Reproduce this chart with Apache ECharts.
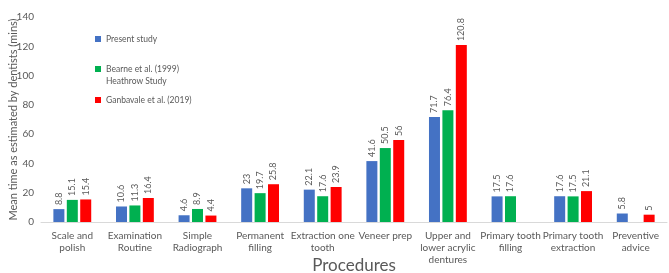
<!DOCTYPE html>
<html>
<head>
<meta charset="utf-8">
<script src="https://cdn.jsdelivr.net/npm/echarts@6/dist/echarts.min.js"></script>
<style>
  html, body { margin: 0; padding: 0; background: #fff; }
  #chart { width: 669px; height: 273px; }
</style>
</head>
<body>
<div id="chart"></div>
<script>
const categories = [
  'Scale and\npolish', 'Examination\nRoutine', 'Simple\nRadiograph', 'Permanent\nfilling',
  'Extraction one\ntooth', 'Veneer prep', 'Upper and\nlower acrylic\ndentures',
  'Primary tooth\nfilling', 'Primary tooth\nextraction', 'Preventive\nadvice'
]
const seriesNames = ['Present study', 'Bearne et al. (1999)\nHeathrow Study', 'Ganbavale et al. (2019)']
const presentStudy = [8.8, 10.6, 4.6, 23, 22.1, 41.6, 71.7, 17.5, 17.6, 5.8]
const bearne = [15.1, 11.3, 8.9, 19.7, 17.6, 50.5, 76.4, 17.6, 17.5, null]
const ganbavale = [15.4, 16.4, 4.4, 25.8, 23.9, 56, 120.8, null, 21.1, 5]
const yTicks = { min: 0, max: 140, interval: 20 }

const font = 'Lato, sans-serif'
const txt = '#595959'

const chart = echarts.init(document.getElementById('chart'), null, { renderer: 'canvas' })

function bar(name, data, color) {
  return {
    name,
    type: 'bar',
    data,
    barWidth: 11,
    barGap: '22%',
    itemStyle: { color },
    label: {
      show: true,
      position: 'top',
      rotate: 90,
      align: 'left',
      verticalAlign: 'middle',
      distance: 4,
      fontSize: 9,
      fontFamily: font,
      color: txt,
    },
  }
}

// one legend per entry; the two-line entry gets a blank first line so
// its square sits level with "Bearne et al. (1999)" like the original
function legend(name, top, fmt) {
  return {
    left: 95,
    top,
    padding: 0,
    itemWidth: 6,
    itemHeight: 6,
    itemGap: 0,
    icon: 'rect',
    formatter: fmt,
    textStyle: {
      fontSize: 8.5, color: txt, fontFamily: font, lineHeight: 12,
      rich: { s: { lineHeight: 12, fontSize: 8.5 }, a: { lineHeight: 12, fontSize: 8.5, color: txt } },
    },
    data: [name],
  }
}

chart.setOption({
  animation: false,
  textStyle: { fontFamily: font },
  legend: [
    legend(seriesNames[0], 33),
    legend(seriesNames[1], 51, n => '{s| }\n' + n.split('\n').map(l => '{a|' + l + '}').join('\n')),
    legend(seriesNames[2], 94),
  ],
  grid: { left: 41, right: 2, top: 17, bottom: 51, containLabel: false, outerBoundsMode: 'none' },
  xAxis: {
    type: 'category',
    data: categories,
    name: 'Procedures',
    nameLocation: 'middle',
    nameGap: 35,
    nameMoveOverlap: false,
    nameTextStyle: { fontSize: 17, color: txt, fontFamily: font },
    axisLine: { lineStyle: { color: '#d9d9d9' } },
    axisTick: { show: false },
    axisLabel: { fontSize: 10, color: txt, lineHeight: 12, interval: 0, margin: 8, fontFamily: font },
  },
  yAxis: {
    type: 'value',
    min: yTicks.min,
    max: yTicks.max,
    interval: yTicks.interval,
    name: 'Mean time as estimated by dentists (mins)',
    nameLocation: 'middle',
    nameGap: 22,
    nameMoveOverlap: false,
    nameTextStyle: { fontSize: 11, color: txt, fontFamily: font },
    axisLine: { show: false },
    axisTick: { show: false },
    splitLine: { show: false },
    axisLabel: { fontSize: 10, color: txt, margin: 7, fontFamily: font },
  },
  series: [
    bar(seriesNames[0], presentStudy, '#4472C4'),
    bar(seriesNames[1], bearne, '#00B050'),
    bar(seriesNames[2], ganbavale, '#FF0000'),
  ],
})
</script>
</body>
</html>
